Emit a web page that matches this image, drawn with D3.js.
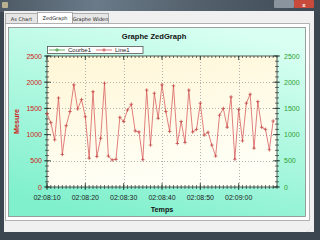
<!DOCTYPE html>
<html><head><meta charset="utf-8">
<script src="https://cdn.jsdelivr.net/npm/d3@7"></script>
<style>html,body{margin:0;padding:0;background:#3a4550;overflow:hidden}svg{display:block}</style>
</head><body>
<script>
const times = ["02:08:10","02:08:11","02:08:12","02:08:13","02:08:14","02:08:15","02:08:16","02:08:17","02:08:18","02:08:19",
"02:08:20","02:08:21","02:08:22","02:08:23","02:08:24","02:08:25","02:08:26","02:08:27","02:08:28","02:08:29",
"02:08:30","02:08:31","02:08:32","02:08:33","02:08:34","02:08:35","02:08:36","02:08:37","02:08:38","02:08:39",
"02:08:40","02:08:41","02:08:42","02:08:43","02:08:44","02:08:45","02:08:46","02:08:47","02:08:48","02:08:49",
"02:08:50","02:08:51","02:08:52","02:08:53","02:08:54","02:08:55","02:08:56","02:08:57","02:08:58","02:08:59",
"02:09:00","02:09:01","02:09:02","02:09:03","02:09:04","02:09:05","02:09:06","02:09:07","02:09:08","02:09:09"];
const line1 = [1400,1230,900,1700,620,1170,1440,1950,1490,1670,
1340,550,1820,580,930,1980,590,515,528,1330,
1250,1470,1580,1070,1050,520,1850,800,1790,1310,
1950,1440,1060,1930,830,1250,850,1850,1050,1100,
1600,990,1045,800,590,1370,1500,1140,1720,530,
1480,880,1600,1770,740,1630,1140,1100,710,1260];
const courbe1 = [];
const xTickLabels = ["02:08:10","02:08:20","02:08:30","02:08:40","02:08:50","02:09:00"];
const xDomain = ["02:08:10","02:09:10"];
const yTicks = [0,500,1000,1500,2000,2500];
const yMinorTicks = d3.range(0,2501,100);
const legendNames = ["Courbe1","Line1"];
const tabNames = ["As Chart","ZedGraph","Graphe Widen"];

const parse = d3.timeParse("%H:%M:%S");
const W=320,H=240;
const svg=d3.select("body").append("svg").attr("width",W).attr("height",H);
const defs=svg.append("defs");

// window chrome
const tb=defs.append("linearGradient").attr("id","tb").attr("x1",0).attr("x2",1).attr("y1",0).attr("y2",0);
tb.append("stop").attr("offset",0).attr("stop-color","#4d5a66");
tb.append("stop").attr("offset",0.3).attr("stop-color","#6a7a88");
tb.append("stop").attr("offset",0.6).attr("stop-color","#55626e");
tb.append("stop").attr("offset",1).attr("stop-color","#3d4852");
svg.append("rect").attr("x",0).attr("y",0).attr("width",W).attr("height",H).attr("fill","#3c4650");
svg.append("rect").attr("x",0).attr("y",0).attr("width",W).attr("height",12).attr("fill","url(#tb)");
svg.append("rect").attr("x",2).attr("y",2).attr("width",6).attr("height",6).attr("fill","#b8b090").attr("rx",1);
svg.append("rect").attr("x",274).attr("y",0).attr("width",20).attr("height",8).attr("fill","#8a949e").attr("rx",1);
svg.append("rect").attr("x",294).attr("y",0).attr("width",20).attr("height",8).attr("fill","#c84a3a").attr("rx",1);
svg.append("text").attr("x",304).attr("y",7).attr("text-anchor","middle").attr("font-family","Liberation Sans").attr("font-size",6).attr("font-weight","bold").attr("fill","#fff").text("x");
svg.append("rect").attr("x",4).attr("y",11).attr("width",310).attr("height",221).attr("fill","#f0f0f0");

// tabs
const tabs=[{x:5,w:32,y:13,h:10},{x:37,w:35,y:12,h:12},{x:72,w:36,y:13,h:10}];
tabs.forEach((t,i)=>{
  svg.append("rect").attr("x",t.x+0.5).attr("y",t.y+0.5).attr("width",t.w).attr("height",t.h)
    .attr("fill",i===1?"#ffffff":"#e6e6e6").attr("stroke","#a0a0a0").attr("stroke-width",0.8);
  svg.append("text").attr("x",t.x+t.w/2+0.5).attr("y",t.y+7.5).attr("text-anchor","middle")
    .attr("font-family","DejaVu Sans").attr("font-size",5).attr("fill","#222").text(tabNames[i]);
});
svg.append("rect").attr("x",5.5).attr("y",23.5).attr("width",304).attr("height",197).attr("fill","#ffffff").attr("stroke","#a0a0a0").attr("stroke-width",0.8);

// pane
const pg=defs.append("linearGradient").attr("id","pg").attr("x1",0.7).attr("y1",0).attr("x2",0.3).attr("y2",1);
pg.append("stop").attr("offset",0).attr("stop-color","#d8fff2");
pg.append("stop").attr("offset",1).attr("stop-color","#80f0cc");
svg.append("rect").attr("x",8.5).attr("y",27.5).attr("width",297).attr("height",189).attr("fill","url(#pg)").attr("stroke","#888").attr("stroke-width",0.8);

const cx0=47,cx1=277,cy0=56,cy1=187;
const cg=defs.append("linearGradient").attr("id","cg").attr("x1",0).attr("y1",0).attr("x2",0.3).attr("y2",1);
cg.append("stop").attr("offset",0).attr("stop-color","#fff6d6");
cg.append("stop").attr("offset",1).attr("stop-color","#fffff6");
svg.append("rect").attr("x",cx0).attr("y",cy0).attr("width",cx1-cx0).attr("height",cy1-cy0).attr("fill","url(#cg)");

const x=d3.scaleTime().domain(xDomain.map(parse)).range([cx0,cx1]);
const y=d3.scaleLinear().domain([0,2500]).range([cy1,cy0]);

// grid
const g=svg.append("g");
xTickLabels.forEach(l=>{const xx=Math.round(x(parse(l)))+0.5; if(xx>cx0+1) g.append("line").attr("x1",xx).attr("x2",xx).attr("y1",cy0).attr("y2",cy1).attr("stroke","#a0a0a0").attr("stroke-width",0.8).attr("stroke-dasharray","1,2");});
yTicks.forEach(v=>{const yy=Math.round(y(v))+0.5; if(v>0&&v<2500) g.append("line").attr("x1",cx0).attr("x2",cx1).attr("y1",yy).attr("y2",yy).attr("stroke","#a0a0a0").attr("stroke-width",0.8).attr("stroke-dasharray","1,2");});

// minor ticks
const axc="#1f3a30";
const minorX=times.map(parse).concat([parse(xDomain[1])]);
minorX.forEach(t=>{const xx=x(t);
  g.append("line").attr("x1",xx).attr("x2",xx).attr("y1",cy1-2).attr("y2",cy1+2).attr("stroke",axc).attr("stroke-width",0.7);
  g.append("line").attr("x1",xx).attr("x2",xx).attr("y1",cy0).attr("y2",cy0+2).attr("stroke",axc).attr("stroke-width",0.7);
});
xTickLabels.forEach(l=>{const xx=x(parse(l));
  g.append("line").attr("x1",xx).attr("x2",xx).attr("y1",cy1-4).attr("y2",cy1+3).attr("stroke",axc).attr("stroke-width",0.8);
  g.append("line").attr("x1",xx).attr("x2",xx).attr("y1",cy0).attr("y2",cy0+4).attr("stroke",axc).attr("stroke-width",0.8);
});
yMinorTicks.forEach(v=>{const yy=y(v);
  g.append("line").attr("x1",cx0-2).attr("x2",cx0+2).attr("y1",yy).attr("y2",yy).attr("stroke",axc).attr("stroke-width",0.7);
  g.append("line").attr("x1",cx1-2).attr("x2",cx1+2).attr("y1",yy).attr("y2",yy).attr("stroke",axc).attr("stroke-width",0.7);
});
yTicks.forEach(v=>{const yy=y(v);
  g.append("line").attr("x1",cx0-3).attr("x2",cx0+4).attr("y1",yy).attr("y2",yy).attr("stroke",axc).attr("stroke-width",0.8);
  g.append("line").attr("x1",cx1-4).attr("x2",cx1+3).attr("y1",yy).attr("y2",yy).attr("stroke",axc).attr("stroke-width",0.8);
});
svg.append("rect").attr("x",cx0).attr("y",cy0).attr("width",cx1-cx0).attr("height",cy1-cy0).attr("fill","none").attr("stroke","#333").attr("stroke-width",0.8);

// labels
const font="Liberation Sans";
yTicks.forEach(v=>{
  svg.append("text").attr("x",cx0-5).attr("y",y(v)+2.5).attr("text-anchor","end").attr("font-family",font).attr("font-size",7).attr("fill","#d02020").text(v);
  svg.append("text").attr("x",cx1+7).attr("y",y(v)+2.5).attr("text-anchor","start").attr("font-family",font).attr("font-size",7).attr("fill","#30a030").text(v);
});
xTickLabels.forEach(l=>{
  svg.append("text").attr("x",x(parse(l))).attr("y",199.5).attr("text-anchor","middle").attr("font-family",font).attr("font-size",7).attr("fill","#222").text(l);
});
svg.append("text").attr("x",162).attr("y",211.5).attr("text-anchor","middle").attr("font-family",font).attr("font-size",7.2).attr("font-weight","bold").attr("fill","#111").text("Temps");
svg.append("text").attr("transform","translate(19,121.5) rotate(-90)").attr("text-anchor","middle").attr("font-family",font).attr("font-size",7.2).attr("font-weight","bold").attr("fill","#d02020").text("Mesure");
svg.append("text").attr("x",154).attr("y",39).attr("text-anchor","middle").attr("font-family",font).attr("font-size",7.6).attr("font-weight","bold").attr("fill","#111").text("Graphe ZedGraph");

// legend
svg.append("rect").attr("x",47.5).attr("y",46.5).attr("width",95.5).attr("height",7).attr("fill","#ffffff").attr("stroke","#555").attr("stroke-width",0.8);
const legColors=["#40a040","#d05858"];
const legX=[49,96];
legendNames.forEach((n,i)=>{
  const lx=legX[i];
  svg.append("line").attr("x1",lx).attr("x2",lx+16).attr("y1",50).attr("y2",50).attr("stroke",legColors[i]).attr("stroke-width",0.8);
  svg.append("path").attr("d",`M${lx+6},50h4M${lx+8},48v4`).attr("stroke",legColors[i]).attr("stroke-width",0.8);
  svg.append("text").attr("x",lx+19).attr("y",52.3).attr("font-family",font).attr("font-size",6).attr("fill","#222").text(n);
});

// series
const pts=times.map((t,i)=>[x(parse(t)),y(line1[i])]);
svg.append("path").attr("d",d3.line()(pts)).attr("fill","none").attr("stroke","#d86060").attr("stroke-width",0.8);
svg.append("g").selectAll("path").data(pts).join("path").attr("d",d=>`M${d[0]-1.8},${d[1]}h3.6M${d[0]},${d[1]-1.8}v3.6`).attr("stroke","#c04040").attr("stroke-width",0.7);
const cpts=courbe1.map((v,i)=>[x(parse(times[i])),y(v)]);
if(cpts.length) svg.append("path").attr("d",d3.line()(cpts)).attr("fill","none").attr("stroke",legColors[0]);

// bottom resize grip
svg.append("text").attr("x",312).attr("y",231).attr("text-anchor","end").attr("font-family","DejaVu Sans").attr("font-size",5).attr("fill","#999").text("⋰");
</script>
</body></html>
